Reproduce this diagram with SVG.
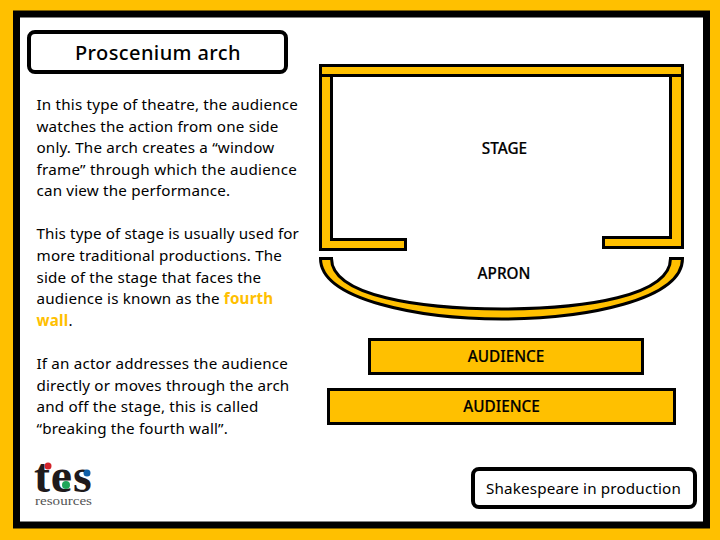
<svg xmlns="http://www.w3.org/2000/svg" width="720" height="540" viewBox="0 0 720 540">
<style>
text{font-family:"Noto Sans","Open Sans","Liberation Sans",sans-serif;fill:#000}
.b{font-size:15.2px;letter-spacing:.18px}
.l{font-size:15.300px;text-anchor:middle;font-weight:500;stroke:#000;stroke-width:.2px}
.w{fill:#FFC000;stroke:#000;stroke-width:3}
.box{fill:#fff;stroke:#000;stroke-width:4}
.y{fill:#FFC000;font-weight:700}
.s{font-family:"Liberation Serif",serif}
</style>
<rect width="720" height="540" fill="#FFC000"/>
<rect x="16.500" y="14" width="690" height="511" fill="#fff" stroke="#000" stroke-width="7"/>
<g id="title"><rect class="box" x="29" y="32" width="257" height="40" rx="6"/><text x="158" y="60" font-size="20" font-weight="500" letter-spacing=".4" text-anchor="middle">Proscenium arch</text></g>
<g id="body">
<text class="b" x="36.500" y="110" textLength="261.500">In this type of theatre, the audience</text>
<text class="b" x="36.500" y="132">watches the action from one side</text>
<text class="b" x="36.500" y="153">only. The arch creates a “window</text>
<text class="b" x="36.500" y="175" textLength="260.500">frame” through which the audience</text>
<text class="b" x="36.500" y="196">can view the performance.</text>
<text class="b" x="36.500" y="239" textLength="262.500">This type of stage is usually used for</text>
<text class="b" x="36.500" y="261">more traditional productions. The</text>
<text class="b" x="36.500" y="283">side of the stage that faces the</text>
<text class="b" x="36.500" y="304">audience is known as the <tspan class="y">fourth</tspan></text>
<text class="b" x="36.500" y="326"><tspan class="y">wall</tspan>.</text>
<text class="b" x="36.500" y="369">If an actor addresses the audience</text>
<text class="b" x="36.500" y="391">directly or moves through the arch</text>
<text class="b" x="36.500" y="412">and off the stage, this is called</text>
<text class="b" x="36.500" y="434">“breaking the fourth wall”.</text>
</g>
<g id="stage">
<path class="w" d="M320.500 75.500H331.500V239.500H405.500V249.500H320.500Z"/>
<path class="w" d="M682.500 75.500H670.500V237.500H603.500V247.500H682.500Z"/>
<rect class="w" x="320.500" y="65.500" width="362" height="10"/>
<text class="l" x="504.500" y="154">STAGE</text>
</g>
<g id="apron">
<path class="w" d="M320.500 258.500H331.500C331.500 296 420 309 502 309C585 309 670.500 296 670.500 258.500H682.500C682.500 300 585 319 502 319C420 319 320.500 300 320.500 258.500Z"/>
<text class="l" x="504" y="279">APRON</text>
</g>
<g id="audience-1"><rect class="w" x="369.500" y="339.500" width="273" height="34"/><text class="l" x="506" y="362">AUDIENCE</text></g>
<g id="audience-2"><rect class="w" x="328.500" y="389.500" width="346" height="34"/><text class="l" x="501.500" y="412">AUDIENCE</text></g>
<g id="logo">
<text class="s" x="34" y="492" font-size="48" font-weight="700" letter-spacing=".8" style="fill:#1f1a1c">tes</text>
<circle cx="48" cy="466" r="3.500" fill="#d2232a"/><circle cx="87" cy="473" r="3.500" fill="#0f5fa8"/><circle cx="66" cy="485" r="4" fill="#1fa65a"/>
<text class="s" x="35" y="505" font-size="13" textLength="57" lengthAdjust="spacingAndGlyphs" style="fill:#555">resources</text>
</g>
<g id="footer"><rect class="box" x="473" y="469" width="222" height="38" rx="6"/><text x="583.500" y="494" font-size="15.200" letter-spacing=".17" text-anchor="middle">Shakespeare in production</text></g>
</svg>
